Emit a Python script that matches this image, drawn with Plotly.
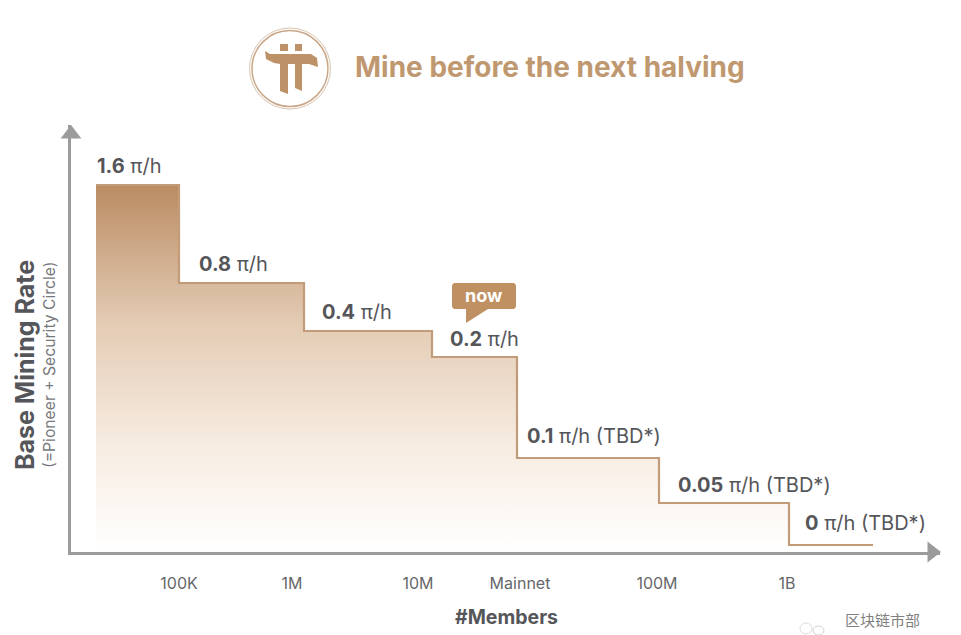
import plotly.graph_objects as go

# step chart values
step_edges = [96, 179, 304, 432, 517, 659, 789, 873]
step_heights = [367, 269, 221, 195, 94, 49, 7]
rate_values = ['1.6', '0.8', '0.4', '0.2', '0.1', '0.05', '0']
rate_suffix = ['', '', '', '', ' (TBD*)', ' (TBD*)', ' (TBD*)']
label_x = [97, 199, 322, 450, 527, 678, 805]
label_lift = [19, 19, 19, 18, 22, 18, 22]
tick_positions = [179, 292, 418, 520, 657, 787]
tick_labels = ['100K', '1M', '10M', 'Mainnet', '100M', '1B']

FONT = 'Inter'
TAN = '#BE9268'
GREY = '#9B9B9B'
TEXT = '#55565A'

# plot area in picture pixels
LEFT, RIGHT, TOP, BOTTOM = 71, 940, 125, 552


def px(v):
    return (v - LEFT) / (RIGHT - LEFT)


def py(v):
    return (BOTTOM - v) / (BOTTOM - TOP)


def path(points):
    return 'M ' + ' L '.join(f'{px(x)},{py(y)}' for x, y in points) + ' Z'


def note(x, y, text, size, color, family=FONT, xanchor='center', yanchor='middle', **kw):
    # paper annotations need explicit anchors, auto moves them near the edges
    fig.add_annotation(xref='paper', yref='paper', x=px(x), y=py(y), text=text, showarrow=False,
                       xanchor=xanchor, yanchor=yanchor,
                       font=dict(family=family, size=size, color=color), **kw)


# build the stair outline
xs, ys = [], []
for i, h in enumerate(step_heights):
    xs += [step_edges[i], step_edges[i + 1]]
    ys += [h, h]

fig = go.Figure()

fig.add_trace(go.Scatter(
    x=xs, y=ys,
    mode='lines',
    line=dict(color='#C29C78', width=2.2),
    fill='tozeroy',
    fillgradient=dict(
        type='vertical',
        colorscale=[[0, '#FFFFFF'], [0.3, '#F6EBE0'], [0.62, '#E4CCB5'], [1, '#BA8C62']],
    ),
    hoverinfo='skip',
    showlegend=False,
))

# arrow heads on the axes
fig.add_trace(go.Scatter(
    x=[71, 932], y=[418, 0],
    mode='markers',
    marker=dict(symbol=['triangle-up', 'triangle-right'], size=18, color=GREY),
    cliponaxis=False,
    hoverinfo='skip',
    showlegend=False,
))

for i, val in enumerate(rate_values):
    fig.add_annotation(
        x=label_x[i], y=step_heights[i] + label_lift[i],
        text=f'<b>{val}</b> π/h{rate_suffix[i]}',
        showarrow=False, xanchor='left', yanchor='middle', xshift=-2,
        font=dict(family=FONT, size=20, color=TEXT),
    )

# logo
glyph = [
    (265, 51), (270, 54), (311, 54), (317, 58), (318, 67), (309, 64), (302, 64),
    (302, 91), (295, 88), (295, 64), (288, 64), (288, 94), (280, 91), (280, 64),
    (274, 63), (266, 59),
]
shapes = [
    dict(type='circle', xref='paper', yref='paper', x0=px(249.5), x1=px(330.5), y0=py(28), y1=py(109),
         line=dict(color='#D9C4B0', width=1)),
    dict(type='circle', xref='paper', yref='paper', x0=px(252), x1=px(328), y0=py(30.5), y1=py(106.5),
         line=dict(color='#C9A687', width=1.5)),
    dict(type='path', xref='paper', yref='paper', path=path(glyph), fillcolor=TAN, line=dict(width=0)),
    dict(type='rect', xref='paper', yref='paper', x0=px(280), x1=px(288), y0=py(51), y1=py(44),
         fillcolor=TAN, line=dict(width=0)),
    dict(type='rect', xref='paper', yref='paper', x0=px(295), x1=px(302), y0=py(51), y1=py(44),
         fillcolor=TAN, line=dict(width=0)),
    # now bubble
    dict(type='path', xref='paper', yref='paper',
         path=path([(454, 283), (514, 283), (516, 285), (516, 307), (514, 309), (488, 309),
                    (466, 323), (466, 309), (454, 309), (452, 307), (452, 285)]),
         fillcolor='#BF9062', line=dict(width=0)),
    # faint watermark icon
    dict(type='circle', xref='paper', yref='paper', x0=px(800), x1=px(812), y0=py(623), y1=py(634),
         line=dict(color='#DDDDDD', width=1)),
    dict(type='circle', xref='paper', yref='paper', x0=px(813), x1=px(824), y0=py(626), y1=py(635),
         line=dict(color='#CFCFCF', width=1)),
]
fig.update_layout(shapes=shapes)

note(353, 67, '<b>Mine before the next halving</b>', 28, '#BF9870', xanchor='left')
note(484, 295, '<b>now</b>', 18, '#FFFFFF')
note(25, 365, '<b>Base Mining Rate</b>', 25, TEXT, textangle=-90)
note(49, 365, '(=Pioneer + Security Circle)', 15.7, '#77787B', textangle=-90)
note(506, 617, '<b>#Members</b>', 19.5, TEXT)
note(843, 619, '区块链市部', 15, '#808080', family='Noto Sans CJK SC', xanchor='left')

fig.update_layout(
    width=961, height=635,
    margin=dict(l=LEFT, r=961 - RIGHT, t=TOP, b=635 - BOTTOM, autoexpand=False),
    paper_bgcolor='white', plot_bgcolor='white',
    xaxis=dict(
        range=[LEFT, RIGHT], tickvals=tick_positions, ticktext=tick_labels,
        showgrid=False, zeroline=False, showline=True, linecolor=GREY, linewidth=3,
        ticks='outside', ticklen=15, tickcolor='rgba(0,0,0,0)',
        tickfont=dict(family=FONT, size=16, color='#66676A'),
    ),
    yaxis=dict(
        range=[0, BOTTOM - TOP], showticklabels=False, ticks='',
        showgrid=False, zeroline=False, showline=True, linecolor=GREY, linewidth=3,
    ),
)

fig.write_html('out.html', config={'displayModeBar': False},
               post_script="document.body.style.margin='0';")
